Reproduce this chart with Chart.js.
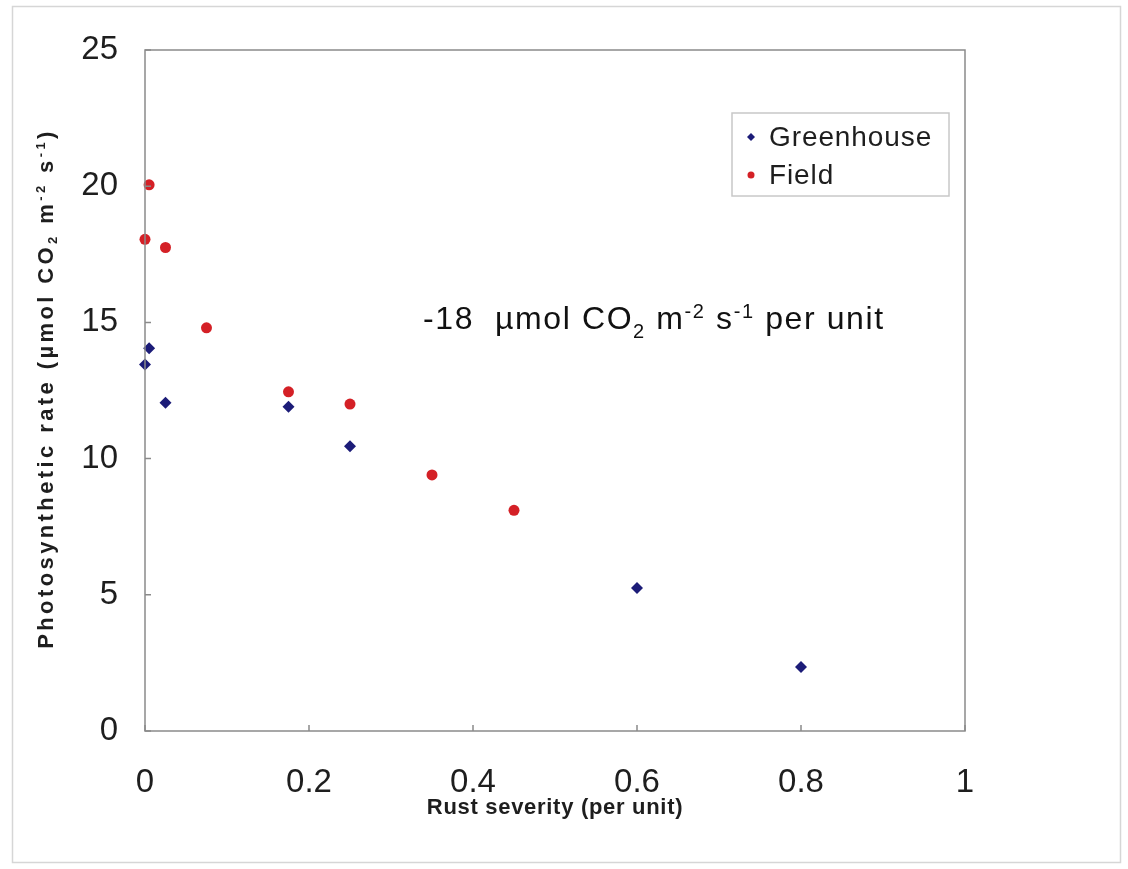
<!DOCTYPE html>
<html>
<head>
<meta charset="utf-8">
<script src="https://cdn.jsdelivr.net/npm/chart.js@4.4.1/dist/chart.umd.min.js"></script>
<style>
  html, body { margin: 0; padding: 0; background: #fff; }
  #wrap { width: 1128px; height: 869px; }
</style>
</head>
<body>
<div id="wrap"><canvas id="chart" width="1128" height="869"></canvas></div>
<script>
const FONT = "'Liberation Sans', Arial, sans-serif";

const SERIES_NAMES = ["Greenhouse", "Field"];
const GREENHOUSE_X = [0, 0.005, 0.025, 0.175, 0.25, 0.6, 0.8];
const GREENHOUSE_Y = [13.45, 14.05, 12.05, 11.9, 10.45, 5.25, 2.35];
const FIELD_X = [0, 0.005, 0.025, 0.075, 0.175, 0.25, 0.35, 0.45];
const FIELD_Y = [18.05, 20.05, 17.75, 14.8, 12.45, 12.0, 9.4, 8.1];
const X_TICKS = [0, 0.2, 0.4, 0.6, 0.8, 1];
const Y_TICKS = [0, 5, 10, 15, 20, 25];

const X_TITLE = [["Rust severity (per unit)", 0]];
const Y_TITLE = [
  ["Photosynthetic rate (\u00b5mol CO", 0], ["2", 4], [" m", 0],
  ["-2", -8], [" s", 0], ["-1", -8], [")", 0],
];
const NOTE = [
  ["-18  \u00b5mol CO", 0], ["2", 9], [" m", 0],
  ["-2", -11], [" s", 0], ["-1", -11], [" per unit", 0],
];

const toPoints = (xs, ys) => xs.map((x, i) => ({ x, y: ys[i] }));

// draws text pieces with sub/superscripts on one baseline, returns width
function richText(ctx, parts, x, y, big, small, dry) {
  let w = 0;
  parts.forEach(([t, dy]) => {
    ctx.font = (dy === 0 ? big : small) + FONT;
    if (!dry) ctx.fillText(t, x + w, y + dy);
    w += ctx.measureText(t).width;
  });
  return w;
}

// outer frame, plot border and inner tick marks
const framePlugin = {
  id: "frame",
  beforeDraw(chart) {
    const { ctx } = chart;
    ctx.save();
    ctx.fillStyle = "#fff";
    ctx.fillRect(0, 0, chart.width, chart.height);
    ctx.strokeStyle = "#d6d6d6";
    ctx.lineWidth = 1.5;
    ctx.strokeRect(12.5, 6.5, 1108, 856);
    ctx.restore();
  },
  afterDraw(chart) {
    const { ctx, chartArea: a, scales } = chart;
    ctx.save();
    ctx.strokeStyle = "#8a8a8a";
    ctx.lineWidth = 1.5;
    ctx.strokeRect(a.left, a.top, a.right - a.left, a.bottom - a.top);
    ctx.beginPath();
    X_TICKS.forEach((v) => {
      const px = scales.x.getPixelForValue(v);
      ctx.moveTo(px, a.bottom);
      ctx.lineTo(px, a.bottom - 6);
    });
    Y_TICKS.forEach((v) => {
      const py = scales.y.getPixelForValue(v);
      ctx.moveTo(a.left, py);
      ctx.lineTo(a.left + 6, py);
    });
    ctx.stroke();
    ctx.restore();
  },
};

// axis titles (drawn by hand for the sub/superscripts)
const titlePlugin = {
  id: "titles",
  afterDraw(chart) {
    const { ctx, chartArea: a } = chart;
    ctx.save();
    ctx.fillStyle = "#1e1e1e";
    ctx.textBaseline = "alphabetic";

    ctx.letterSpacing = "0.7px";
    let w = richText(ctx, X_TITLE, 0, 0, "bold 22px ", "bold 14px ", true);
    richText(ctx, X_TITLE, (a.left + a.right) / 2 - w / 2, 814, "bold 22px ", "bold 14px ");

    ctx.letterSpacing = "3.4px";
    w = richText(ctx, Y_TITLE, 0, 0, "bold 22px ", "bold 13px ", true);
    ctx.translate(45, (a.top + a.bottom) / 2 - 2);
    ctx.rotate(-Math.PI / 2);
    richText(ctx, Y_TITLE, -w / 2, 8, "bold 22px ", "bold 13px ");
    ctx.restore();
  },
};

// boxed legend inside the plot
const legendPlugin = {
  id: "boxLegend",
  afterDraw(chart) {
    const { ctx } = chart;
    ctx.save();
    ctx.strokeStyle = "#c8c8c8";
    ctx.lineWidth = 1.5;
    ctx.strokeRect(732, 113, 217, 83);
    ctx.font = "28px " + FONT;
    ctx.letterSpacing = "0.9px";
    ctx.textBaseline = "middle";
    chart.data.datasets.forEach((ds, i) => {
      const cy = 137 + i * 38;
      ctx.fillStyle = ds.backgroundColor;
      ctx.beginPath();
      if (ds.pointStyle === "rectRot") {
        ctx.moveTo(751, cy - 4);
        ctx.lineTo(755, cy);
        ctx.lineTo(751, cy + 4);
        ctx.lineTo(747, cy);
        ctx.closePath();
      } else {
        ctx.arc(751, cy, 3.5, 0, Math.PI * 2);
      }
      ctx.fill();
      ctx.fillStyle = "#1e1e1e";
      ctx.fillText(ds.label, 769, cy + 1);
    });
    ctx.restore();
  },
};

// slope annotation
const notePlugin = {
  id: "note",
  afterDraw(chart) {
    const { ctx } = chart;
    ctx.save();
    ctx.fillStyle = "#111";
    ctx.textBaseline = "alphabetic";
    ctx.letterSpacing = "1.6px";
    richText(ctx, NOTE, 423, 329, "32px ", "20px ");
    ctx.restore();
  },
};

new Chart(document.getElementById("chart"), {
  type: "scatter",
  data: {
    datasets: [
      {
        label: SERIES_NAMES[0],
        data: toPoints(GREENHOUSE_X, GREENHOUSE_Y),
        pointStyle: "rectRot",
        pointRadius: 6,
        backgroundColor: "#1c1c78",
        borderColor: "#1c1c78",
        borderWidth: 0,
        clip: false,
      },
      {
        label: SERIES_NAMES[1],
        data: toPoints(FIELD_X, FIELD_Y),
        pointStyle: "circle",
        pointRadius: 5.5,
        backgroundColor: "#d42026",
        borderColor: "#d42026",
        borderWidth: 0,
        clip: false,
      },
    ],
  },
  options: {
    responsive: false,
    animation: false,
    layout: { padding: { left: 0, top: 50, right: 163, bottom: 0 } },
    plugins: { legend: { display: false }, tooltip: { enabled: false } },
    scales: {
      x: {
        type: "linear",
        min: 0,
        max: 1,
        afterBuildTicks: (s) => { s.ticks = X_TICKS.map((v) => ({ value: v })); },
        afterFit: (s) => { s.height = 138; },
        grid: { display: false, drawTicks: false },
        border: { display: false },
        ticks: {
          padding: 32,
          color: "#1e1e1e",
          font: { family: FONT, size: 33 },
          callback: (v) => String(Math.round(v * 10) / 10),
        },
      },
      y: {
        type: "linear",
        min: 0,
        max: 25,
        afterBuildTicks: (s) => { s.ticks = Y_TICKS.map((v) => ({ value: v })); },
        afterFit: (s) => { s.width = 145; },
        grid: { display: false, drawTicks: false },
        border: { display: false },
        ticks: { padding: 27, color: "#1e1e1e", font: { family: FONT, size: 33 } },
      },
    },
  },
  plugins: [framePlugin, titlePlugin, legendPlugin, notePlugin],
});
</script>
</body>
</html>
